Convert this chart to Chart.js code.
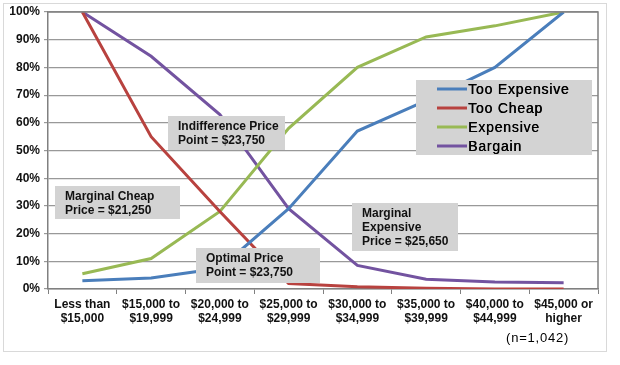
<!DOCTYPE html>
<html><head><meta charset="utf-8">
<script src="https://cdn.jsdelivr.net/npm/chart.js@4/dist/chart.umd.min.js"></script>
<style>html,body{margin:0;padding:0;background:#fff}#wrap{width:620px;height:365px;position:relative}</style>
</head><body><div id="wrap"><canvas id="c" width="620" height="365"></canvas></div>
<script>
const categories = [["Less than","$15,000"],["$15,000 to","$19,999"],["$20,000 to","$24,999"],["$25,000 to","$29,999"],["$30,000 to","$34,999"],["$35,000 to","$39,999"],["$40,000 to","$44,999"],["$45,000 or","higher"]];
const seriesNames = ["Too Expensive","Too Cheap","Expensive","Bargain"];
const tooExpensive = [3,4,7.5,29,57,68,80,100];
const tooCheap = [100,55,28,2,0.8,0.3,0,0];
const expensive = [5.5,11,28,58,80,91,95,100];
const bargain = [100,84,63,29,8.5,3.5,2.5,2.3];
const yTicks = [0,10,20,30,40,50,60,70,80,90,100];
const annotationTexts = [["Indifference Price","Point = $23,750"],["Marginal Cheap","Price = $21,250"],["Optimal Price","Point = $23,750"],["Marginal","Expensive","Price = $25,650"]];
const sampleNote = "(n=1,042)";

const colors = ["#4a7ebb","#b8423f","#98b954","#7353a0"];
const annoBoxes = [
  {x:168,y:116,w:117,h:34},
  {x:55,y:186,w:125,h:33},
  {x:196,y:248,w:124,h:35},
  {x:352,y:203,w:106,h:48}
];
const FONT = '"Liberation Sans", Arial, sans-serif';

const framePlugin = {
  id:'frame',
  beforeDraw(chart){
    const c = chart.ctx;
    c.save();
    c.fillStyle='#fff'; c.fillRect(0,0,chart.width,chart.height);
    c.strokeStyle='#d9d9d9'; c.lineWidth=1;
    c.strokeRect(3.5,3.5,603,348);
    c.restore();
  },
  afterDatasetsDraw(chart){
    const c = chart.ctx, a = chart.chartArea;
    c.save();
    c.strokeStyle='#808080'; c.lineWidth=1.5;
    c.beginPath();
    c.moveTo(a.left,a.top); c.lineTo(a.right,a.top); c.lineTo(a.right,a.bottom);
    c.stroke();
    annoBoxes.forEach((b,i)=>{
      c.fillStyle='#d3d3d3';
      c.fillRect(b.x,b.y,b.w,b.h);
      c.fillStyle='#111';
      c.font='bold 12px '+FONT;
      c.textBaseline='top';
      c.textAlign='left';
      annotationTexts[i].forEach((t,j)=>c.fillText(t,b.x+10,b.y+5+j*14));
    });
    c.fillStyle='#d3d3d3';
    c.fillRect(416,80,176,75);
    c.font='14px '+FONT;
    c.textBaseline='middle';
    try{ c.letterSpacing='0.8px'; }catch(e){}
    seriesNames.forEach((n,i)=>{
      const y = 89+i*19;
      c.strokeStyle=colors[i]; c.lineWidth=3;
      c.beginPath(); c.moveTo(437,y); c.lineTo(467,y); c.stroke();
      c.fillStyle='#000';
      c.fillText(n,468,y+1);
      c.fillText(n,468.4,y+1);
    });
    c.font='13px '+FONT;
    c.fillText(sampleNote,506,338);
    c.restore();
  }
};

const mk = (label,data,i)=>({label,data,borderColor:colors[i],backgroundColor:colors[i],borderWidth:3,pointRadius:0,tension:0,fill:false});

new Chart(document.getElementById('c'),{
  type:'line',
  data:{labels:categories,datasets:[mk(seriesNames[0],tooExpensive,0),mk(seriesNames[1],tooCheap,1),mk(seriesNames[2],expensive,2),mk(seriesNames[3],bargain,3)]},
  options:{
    responsive:false,animation:false,
    layout:{padding:{left:0,right:22,top:12,bottom:0}},
    plugins:{legend:{display:false},tooltip:{enabled:false}},
    scales:{
      x:{
        offset:true,
        grid:{display:true,drawOnChartArea:false,offset:true,color:'#808080',tickLength:5,lineWidth:1},
        border:{display:true,color:'#808080',width:1.5},
        ticks:{color:'#111',font:{family:FONT,size:12,weight:'bold'},maxRotation:0,autoSkip:false,padding:3},
        afterFit(s){s.height=76;}
      },
      y:{
        min:0,max:100,
        afterBuildTicks(s){s.ticks=yTicks.map(v=>({value:v}));},
        grid:{color:'#999999',lineWidth:1.2,tickLength:4,drawTicks:true},
        border:{display:true,color:'#808080',width:1.5},
        ticks:{color:'#111',font:{family:FONT,size:12,weight:'bold'},callback:v=>v+'%',padding:4},
        afterFit(s){s.width=48;}
      }
    }
  },
  plugins:[framePlugin]
});
</script>
</body></html>
